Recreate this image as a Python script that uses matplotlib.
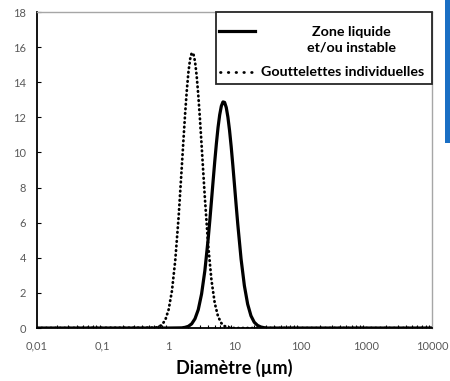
import matplotlib
matplotlib.use("Agg")
import matplotlib.pyplot as plt
from matplotlib.patches import Rectangle
from matplotlib.lines import Line2D
from matplotlib.ticker import LogLocator, FixedLocator, NullFormatter

plt.rcParams['font.family'] = ['Lato', 'DejaVu Sans']

# Gouttelettes individuelles (dotted): diameter (µm) and volume (%)
d_gouttes = [0.01, 0.02, 0.631, 0.708, 0.794, 0.891, 1.0, 1.122, 1.259, 1.413,
             1.585, 1.679, 1.778, 1.884, 1.995, 2.113, 2.239, 2.371, 2.512,
             2.661, 2.818, 2.985, 3.162, 3.350, 3.548, 3.981, 4.467, 5.012,
             5.623, 6.310, 7.079, 7.943, 8.913, 10.0, 10000]
v_gouttes = [0, 0, 0.02, 0.07, 0.19, 0.47, 1.06, 2.12, 3.85, 6.27,
             9.21, 10.74, 12.20, 13.51, 14.57, 15.30, 15.67, 15.63, 15.19,
             14.38, 13.27, 11.92, 10.44, 8.91, 7.41, 4.73, 2.73, 1.42,
             0.66, 0.28, 0.11, 0.04, 0.01, 0, 0]

# Zone liquide et/ou instable (solid)
d_zone = [0.01, 1.0, 1.585, 1.778, 1.995, 2.239, 2.512, 2.818, 3.162, 3.548,
          3.981, 4.217, 4.467, 4.732, 5.012, 5.309, 5.623, 5.957, 6.310,
          6.683, 7.079, 7.499, 7.943, 8.414, 8.913, 9.441, 10.0, 10.59, 11.22,
          12.59, 14.13, 15.85, 17.78, 19.95, 22.39, 25.12, 28.18, 31.62, 10000]
v_zone = [0, 0, 0.01, 0.04, 0.10, 0.24, 0.53, 1.05, 1.94, 3.27,
          5.07, 6.12, 7.24, 8.37, 9.48, 10.51, 11.42, 12.14, 12.64,
          12.88, 12.85, 12.56, 12.01, 11.25, 10.32, 9.26, 8.14, 7.01, 5.91,
          3.93, 2.41, 1.36, 0.70, 0.33, 0.15, 0.06, 0.02, 0, 0]

xticks = [0.01, 0.1, 1, 10, 100, 1000, 10000]
xlabels = ["0,01", "0,1", "1", "10", "100", "1000", "10000"]
yticks = [0, 2, 4, 6, 8, 10, 12, 14, 16, 18]

fig = plt.figure(figsize=(4.5, 3.81), dpi=100)
ax = fig.add_axes([0.0822, 0.139, 0.8778, 0.8295])

ax.plot(d_zone, v_zone, color='black', lw=2.3, solid_joinstyle='round')
ax.plot(d_gouttes, v_gouttes, color='black', lw=2.0, linestyle=(0, (0.2, 1.45)),
        dash_capstyle='round')

ax.set_xscale('log')
ax.set_xlim(0.01, 10000)
ax.set_ylim(0, 18)
ax.xaxis.set_major_locator(FixedLocator(xticks))
ax.set_xticklabels(xlabels)
ax.xaxis.set_minor_locator(LogLocator(base=10, subs=[2, 3, 4, 5, 6, 7, 8, 9], numticks=20))
ax.xaxis.set_minor_formatter(NullFormatter())
ax.set_yticks(yticks)

ax.tick_params(axis='x', which='major', length=0, pad=9, labelsize=8, labelcolor='#595959')
ax.tick_params(axis='x', which='minor', direction='in', length=2.5, width=0.8)
ax.tick_params(axis='y', which='major', direction='in', length=3, width=0.8,
               pad=8, labelsize=8, labelcolor='#595959')

for s in ['left', 'bottom']:
    ax.spines[s].set_color('black')
    ax.spines[s].set_linewidth(1.3)
for s in ['top', 'right']:
    ax.spines[s].set_color('#a6a6a6')
    ax.spines[s].set_linewidth(1.0)

ax.set_xlabel('Diamètre (µm)', fontsize=13, fontweight='bold', labelpad=5)

# legend box drawn in axes coordinates
ax.add_patch(Rectangle((0.453, 0.772), 0.547, 0.228, transform=ax.transAxes,
                       facecolor='white', edgecolor='#262626', lw=1.3,
                       zorder=5, clip_on=False))
ax.add_line(Line2D([0.461, 0.552], [0.940, 0.940], transform=ax.transAxes,
                   color='black', lw=2.3, zorder=6))
ax.add_line(Line2D([0.463, 0.552], [0.810, 0.810], transform=ax.transAxes,
                   color='black', lw=2.0, linestyle=(0, (0.2, 2.6)),
                   dash_capstyle='round', zorder=6))
ax.text(0.797, 0.912, 'Zone liquide\net/ou instable', transform=ax.transAxes,
        ha='center', va='center', multialignment='center', fontsize=10.3,
        fontweight='bold', linespacing=1.4, zorder=7)
ax.text(0.566, 0.810, 'Gouttelettes individuelles', transform=ax.transAxes,
        ha='left', va='center', fontsize=10.3, fontweight='bold', zorder=7)

# blue bar at the right edge of the picture
fig.patches.append(Rectangle((445 / 450, 1 - 143 / 381), 5 / 450, 143 / 381,
                             transform=fig.transFigure, facecolor='#1a6fc4',
                             edgecolor='none'))

fig.savefig('out.png', dpi=100)
